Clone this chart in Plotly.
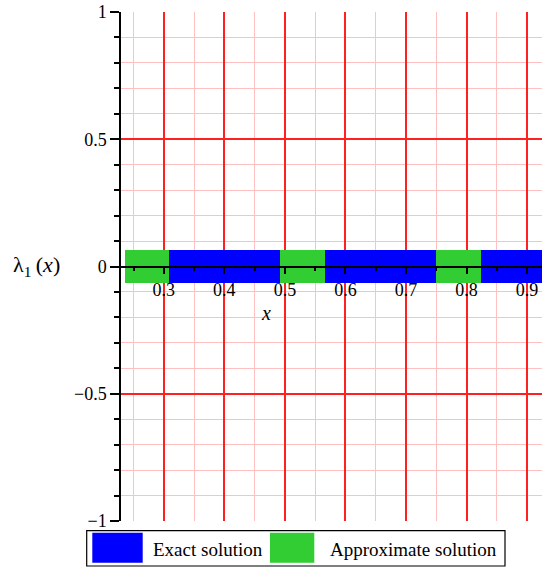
import plotly.graph_objects as go

# ---- data ----
approx_start = [0.236, 0.4921, 0.7491]
approx_end = [0.3093, 0.5663, 0.8235]
exact_start = [0.3093, 0.5663, 0.8235]
exact_end = [0.4921, 0.7491, 0.95]
band_level = [0.0, 0.0, 0.0]
band_thickness = 0.128

y_tickvals = [-1, -0.5, 0, 0.5, 1]
y_ticktext = ["\u22121", "\u22120.5", "0", "0.5", "1"]
x_tickvals = [0.3, 0.4, 0.5, 0.6, 0.7, 0.8, 0.9]
x_ticktext = ["0.3", "0.4", "0.5", "0.6", "0.7", "0.8", "0.9"]

legend_names = ["Exact solution", "Approximate solution"]
BLUE = "#0000FF"
GREEN = "#32CD32"
FONT = "Liberation Serif"

W, H = 542, 567
ML, MR, MT, MB = 121, 0, 12, 46
PW, PH = W - ML - MR, H - MT - MB


def px(xp):
    return (xp - ML) / PW


def py(yp):
    return (H - MB - yp) / PH


fig = go.Figure()
fig.add_trace(go.Bar(
    orientation="h", y=band_level, base=exact_start,
    x=[e - s for s, e in zip(exact_start, exact_end)],
    width=band_thickness, marker=dict(color=BLUE, line=dict(width=0)),
    name=legend_names[0], showlegend=False, hoverinfo="skip"))
fig.add_trace(go.Bar(
    orientation="h", y=band_level, base=approx_start,
    x=[e - s for s, e in zip(approx_start, approx_end)],
    width=band_thickness, marker=dict(color=GREEN, line=dict(width=0)),
    name=legend_names[1], showlegend=False, hoverinfo="skip"))

fig.update_layout(
    width=W, height=H,
    margin=dict(l=ML, r=MR, t=MT, b=MB, pad=0),
    paper_bgcolor="white", plot_bgcolor="white",
    barmode="overlay", bargap=0,
    font=dict(family=FONT, size=18, color="black"),
    xaxis=dict(
        range=[0.2293, 0.9246], anchor="free", position=0.5,
        tickmode="array", tickvals=x_tickvals, ticktext=x_ticktext,
        showgrid=True, gridcolor="#FF2020", gridwidth=1.5,
        zeroline=False, showline=True, linecolor="black", linewidth=1.5,
        ticks="outside", ticklen=7, tickwidth=1.5, tickcolor="black",
        tickfont=dict(family=FONT, size=18),
        minor=dict(dtick=0.05, tick0=0, showgrid=True, gridcolor="#FFC0C0",
                   gridwidth=1.2, ticks="outside", ticklen=4, tickcolor="black",
                   tickwidth=1.5),
        layer="above traces",
    ),
    yaxis=dict(
        range=[-1, 1],
        tickmode="array", tickvals=y_tickvals, ticktext=y_ticktext,
        showgrid=True, gridcolor="#FF2020", gridwidth=1.5,
        zeroline=False, showline=True, linecolor="black", linewidth=1.5,
        ticks="outside", ticklen=9, tickwidth=1.5, tickcolor="black",
        tickfont=dict(family=FONT, size=18),
        minor=dict(dtick=0.1, tick0=0, showgrid=True, gridcolor="#FFC0C0",
                   gridwidth=1.2, ticks="outside", ticklen=5, tickcolor="black",
                   tickwidth=1.5),
        layer="above traces",
    ),
    showlegend=False,
)

# axis titles
fig.add_annotation(text="\u03bb<sub>1</sub>\u2009(<i>x</i>)", xref="paper", yref="paper",
                   x=px(36), y=py(266), showarrow=False,
                   font=dict(family=FONT, size=22), xanchor="center", yanchor="middle")
fig.add_annotation(text="<i>x</i>", xref="paper", yref="paper",
                   x=px(266), y=py(313), showarrow=False,
                   font=dict(family=FONT, size=20), xanchor="center", yanchor="middle")

# legend box
fig.add_shape(type="rect", xref="paper", yref="paper",
              x0=px(86.7), x1=px(505), y0=py(566), y1=py(530.7),
              line=dict(color="black", width=1.2), fillcolor="white", layer="above")
fig.add_shape(type="rect", xref="paper", yref="paper",
              x0=px(92.3), x1=px(142.7), y0=py(562.7), y1=py(532.7),
              line=dict(width=0), fillcolor=BLUE, layer="above")
fig.add_shape(type="rect", xref="paper", yref="paper",
              x0=px(270), x1=px(314.3), y0=py(562.7), y1=py(532.7),
              line=dict(width=0), fillcolor=GREEN, layer="above")
fig.add_annotation(text=legend_names[0], xref="paper", yref="paper",
                   x=px(150.7), y=py(549), showarrow=False, xanchor="left",
                   yanchor="middle", font=dict(family=FONT, size=19))
fig.add_annotation(text=legend_names[1], xref="paper", yref="paper",
                   x=px(328.3), y=py(549), showarrow=False, xanchor="left",
                   yanchor="middle", font=dict(family=FONT, size=19))

fig.write_html("out.html", config={"displayModeBar": False},
               post_script="document.body.style.margin='0';document.body.style.overflow='hidden';")
